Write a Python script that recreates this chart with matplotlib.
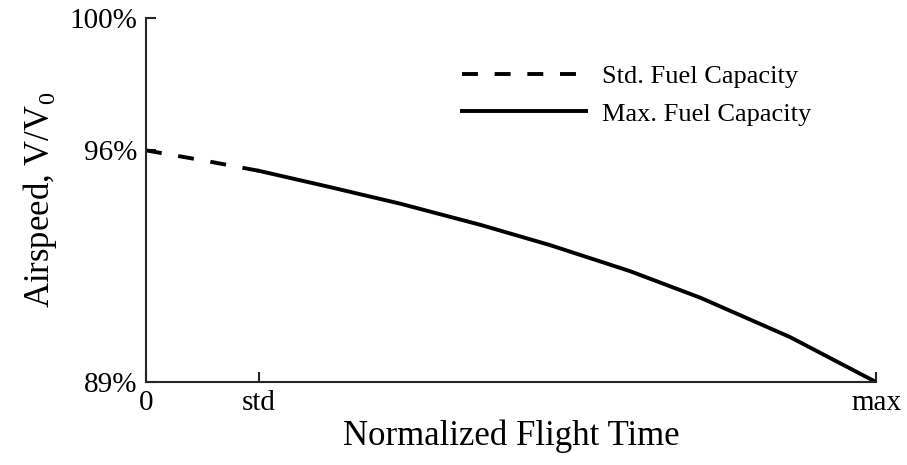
import matplotlib.pyplot as plt

plt.rcParams['font.family'] = ['Liberation Serif', 'DejaVu Serif']
plt.rcParams['mathtext.fontset'] = 'custom'
plt.rcParams['mathtext.rm'] = 'Liberation Serif'

# data (normalized flight time, airspeed in % of V0)
time_std = [0.0, 0.08, 0.155]
airspeed_std = [96.0, 95.69, 95.38]

time_max = [0.155, 0.252, 0.348, 0.458, 0.553, 0.663, 0.759, 0.882, 1.0]
airspeed_max = [95.38, 94.89, 94.39, 93.75, 93.14, 92.35, 91.55, 90.36, 89.0]

xticks = [0, 0.155, 1.0]
xtick_labels = ['0', 'std', 'max']
yticks = [89, 96, 100]
ytick_labels = ['89%', '96%', '100%']

fig = plt.figure(figsize=(9.07, 4.65), dpi=100)
ax = fig.add_axes([146/907, 1 - 382/465, 730/907, 364/465])

ax.plot(time_std, airspeed_std, color='black', lw=2.8, dashes=(4.1, 4.3),
        label='Std. Fuel Capacity')
ax.plot(time_max, airspeed_max, color='black', lw=2.8, solid_joinstyle='round',
        label='Max. Fuel Capacity')

ax.set_xlim(0, 1.0)
ax.set_ylim(89, 100)
ax.set_xticks(xticks)
ax.set_xticklabels(xtick_labels)
ax.set_yticks(yticks)
ax.set_yticklabels(ytick_labels)

for s in ['top', 'right']:
    ax.spines[s].set_visible(False)
for s in ['left', 'bottom']:
    ax.spines[s].set_linewidth(1.5)
    ax.spines[s].set_color('#262626')
ax.tick_params(direction='in', length=7, width=1.5, color='#262626', labelsize=21, pad=6)

ax.set_xlabel('Normalized Flight Time', fontsize=25, labelpad=2)
ax.set_ylabel('Airspeed, V/V$_0$', fontsize=25, labelpad=8)

fig.legend(loc='center left', bbox_to_anchor=(462/907, 1 - 95/465),
           frameon=False, fontsize=19, handlelength=4.7, handletextpad=0.6,
           labelspacing=0.55, borderpad=0, borderaxespad=0)

fig.savefig('out.png', dpi=100)
